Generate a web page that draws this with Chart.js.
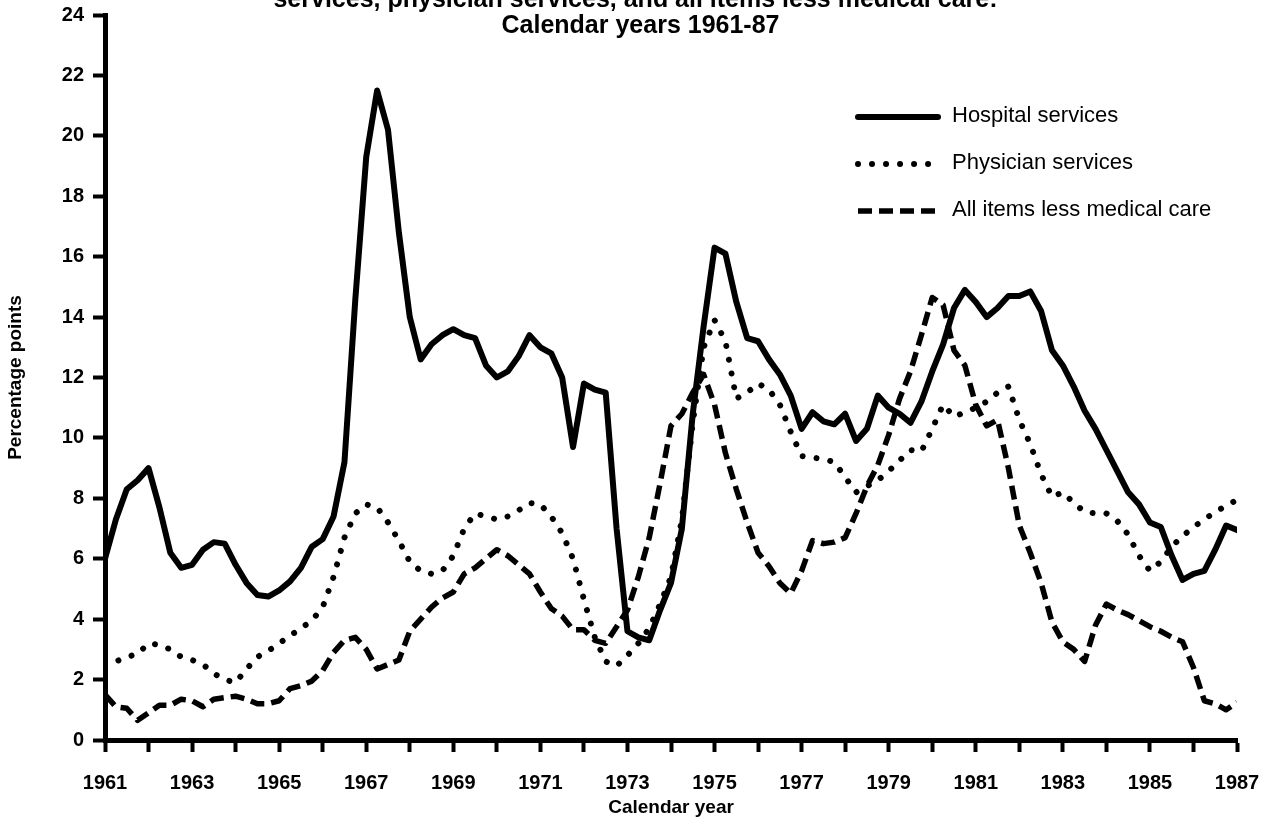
<!DOCTYPE html>
<html>
<head>
<meta charset="utf-8">
<script src="https://cdn.jsdelivr.net/npm/chart.js@4.4.0/dist/chart.umd.min.js"></script>
<style>
html,body{margin:0;padding:0;background:#fff;}
#wrap{position:relative;width:1267px;height:819px;overflow:hidden;background:#fff;}
#c{position:absolute;left:0;top:0;}
.t{position:absolute;width:1267px;text-align:center;font-family:"Liberation Sans",Arial,sans-serif;font-weight:bold;font-size:25px;line-height:29px;color:#000;white-space:nowrap;}
</style>
</head>
<body>
<div id="wrap">
<canvas id="c" width="1267" height="819"></canvas>
<div class="t" style="top:-16px;left:2px;">services, physician services, and all items less medical care:</div>
<div class="t" style="top:10px;left:7px;">Calendar years 1961-87</div>
</div>
<script>
// Quarterly series, 1961 Q1 .. 1987 Q1 (percentage points)
const startYear = 1961;
const hospital = [
 6.0, 7.3, 8.3, 8.6,  9.0, 7.7, 6.2, 5.7,  5.8, 6.3, 6.55, 6.5,  5.8, 5.2, 4.8, 4.75,
 4.95, 5.25, 5.7, 6.4,  6.65, 7.4, 9.2, 14.6,  19.3, 21.5, 20.2, 16.8,  14.0, 12.6, 13.1, 13.4,
 13.6, 13.4, 13.3, 12.4,  12.0, 12.2, 12.7, 13.4,  13.0, 12.8, 12.0, 9.7,  11.8, 11.6, 11.5, 7.0,
 3.6, 3.4, 3.3, 4.3,  5.2, 7.0, 10.8, 13.7,  16.3, 16.1, 14.5, 13.3,  13.2, 12.6, 12.1, 11.4,
 10.3, 10.85, 10.55, 10.45,  10.8, 9.9, 10.3, 11.4,  11.0, 10.8, 10.5, 11.2,  12.2, 13.1, 14.3, 14.9,
 14.5, 14.0, 14.3, 14.7,  14.7, 14.85, 14.2, 12.9,  12.4, 11.7, 10.9, 10.3,  9.6, 8.9, 8.2, 7.8,
 7.2, 7.05, 6.1, 5.3,  5.5, 5.6, 6.3, 7.1,  6.95
];
const physician = [
 2.5, 2.6, 2.75, 2.85,  3.2, 3.15, 3.0, 2.75,  2.65, 2.5, 2.2, 2.0,  1.9, 2.35, 2.75, 2.95,
 3.2, 3.45, 3.7, 3.95,  4.4, 5.4, 6.7, 7.5,  7.8, 7.7, 7.2, 6.6,  5.9, 5.6, 5.5, 5.6,
 6.1, 7.0, 7.5, 7.4,  7.3, 7.4, 7.6, 7.85,  7.8, 7.4, 6.85, 6.0,  4.65, 3.4, 2.6, 2.45,
 2.8, 3.2, 3.7, 4.5,  5.4, 7.3, 10.5, 13.0,  13.9, 13.2, 11.3, 11.5,  11.8, 11.6, 11.1, 10.2,
 9.4, 9.35, 9.3, 9.2,  8.7, 8.2, 8.4, 8.6,  8.9, 9.25, 9.6, 9.55,  10.3, 11.1, 10.7, 10.85,
 11.0, 11.2, 11.5, 11.7,  10.6, 9.8, 8.8, 8.05,  8.2, 7.85, 7.55, 7.5,  7.5, 7.25, 6.8, 6.1,
 5.6, 5.9, 6.4, 6.75,  7.05, 7.3, 7.55, 7.75,  7.95
];
const allItemsLessMedical = [
 1.5, 1.1, 1.05, 0.65,  0.9, 1.15, 1.15, 1.35,  1.3, 1.1, 1.35, 1.4,  1.45, 1.35, 1.2, 1.2,
 1.3, 1.7, 1.8, 1.95,  2.3, 2.9, 3.3, 3.4,  3.0, 2.35, 2.5, 2.65,  3.6, 4.0, 4.4, 4.7,
 4.9, 5.5, 5.7, 6.0,  6.3, 6.1, 5.8, 5.5,  4.9, 4.35, 4.1, 3.65,  3.65, 3.3, 3.2, 3.75,
 4.3, 5.4, 6.7, 8.5,  10.4, 10.8, 11.5, 12.1,  11.1, 9.5, 8.3, 7.2,  6.2, 5.75, 5.2, 4.85,
 5.6, 6.6, 6.5, 6.55,  6.7, 7.5, 8.4, 9.1,  10.1, 11.3, 12.2, 13.4,  14.65, 14.4, 12.9, 12.4,
 11.1, 10.4, 10.6, 9.0,  7.1, 6.2, 5.2, 3.9,  3.25, 3.0, 2.6, 3.8,  4.5, 4.3, 4.15, 3.95,
 3.75, 3.6, 3.4, 3.25,  2.4, 1.3, 1.2, 1.0,  1.25
];
const seriesNames = ['Hospital services', 'Physician services', 'All items less medical care'];
const yearTicks = [1961, 1963, 1965, 1967, 1969, 1971, 1973, 1975, 1977, 1979, 1981, 1983, 1985, 1987];

const periods = hospital.map((_, i) => startYear + i / 4);
const toPoints = arr => arr.map((v, i) => ({x: periods[i], y: v}));

const FONT = '"Liberation Sans", Arial, sans-serif';

const styles = [
  {borderWidth: 6, borderDash: [], borderCapStyle: 'round'},
  {borderWidth: 6, borderDash: [0.01, 14], borderCapStyle: 'round'},
  {borderWidth: 5.5, borderDash: [14, 7], borderCapStyle: 'butt'}
];

const legendPlugin = {
  id: 'inlineLegend',
  afterDraw(chart) {
    const ctx = chart.ctx;
    const rows = [117, 164, 211];
    ctx.save();
    chart.data.datasets.forEach((ds, i) => {
      const y = rows[i];
      ctx.beginPath();
      ctx.strokeStyle = '#000';
      ctx.lineWidth = ds.borderWidth;
      ctx.lineCap = ds.borderCapStyle;
      ctx.setLineDash(ds.borderDash || []);
      ctx.moveTo(858, y);
      ctx.lineTo(938, y);
      ctx.stroke();
      ctx.setLineDash([]);
      ctx.fillStyle = '#000';
      ctx.font = '22px ' + FONT;
      ctx.textBaseline = 'middle';
      ctx.textAlign = 'left';
      ctx.fillText(ds.label, 952, y - 1);
    });
    ctx.restore();
  }
};

new Chart(document.getElementById('c'), {
  type: 'line',
  data: {
    datasets: [hospital, physician, allItemsLessMedical].map((arr, i) => Object.assign({
      label: seriesNames[i],
      data: toPoints(arr),
      borderColor: '#000',
      backgroundColor: '#000',
      pointRadius: 0,
      tension: 0,
      fill: false,
      borderJoinStyle: 'round'
    }, styles[i]))
  },
  options: {
    responsive: false,
    animation: false,
    devicePixelRatio: 1,
    layout: {padding: {left: 0, right: 30, top: 15, bottom: 0}},
    plugins: {legend: {display: false}, tooltip: {enabled: false}, title: {display: false}},
    scales: {
      x: {
        type: 'linear', min: 1961, max: 1987,
        afterBuildTicks: s => { const t = []; for (let y = 1961; y <= 1987; y++) t.push({value: y}); s.ticks = t; },
        ticks: {
          autoSkip: false, maxRotation: 0, minRotation: 0, padding: 19, color: '#000',
          font: {family: FONT, size: 20, weight: 'bold'},
          callback: v => yearTicks.includes(v) ? String(v) : ''
        },
        grid: {drawOnChartArea: false, drawTicks: true, tickLength: 12, tickWidth: 4, tickColor: '#000'},
        border: {display: true, color: '#000', width: 5},
        title: {display: true, text: 'Calendar year', color: '#000', font: {family: FONT, size: 19, weight: 'bold'}, padding: {top: 0, bottom: 0}},
        afterFit: s => { s.height = 79; s.paddingLeft = 0; s.paddingRight = 0; }
      },
      y: {
        min: 0, max: 24,
        ticks: {stepSize: 2, padding: 9, color: '#000', font: {family: FONT, size: 20, weight: 'bold'}},
        grid: {drawOnChartArea: false, drawTicks: true, tickLength: 12, tickWidth: 4, tickColor: '#000'},
        border: {display: true, color: '#000', width: 5},
        title: {display: true, text: 'Percentage points', color: '#000', font: {family: FONT, size: 19, weight: 'bold'}, padding: {top: 4, bottom: 0}},
        afterFit: s => { s.width = 105; s.paddingTop = 0; s.paddingBottom = 0; }
      }
    }
  },
  plugins: [legendPlugin]
});
</script>
</body>
</html>
